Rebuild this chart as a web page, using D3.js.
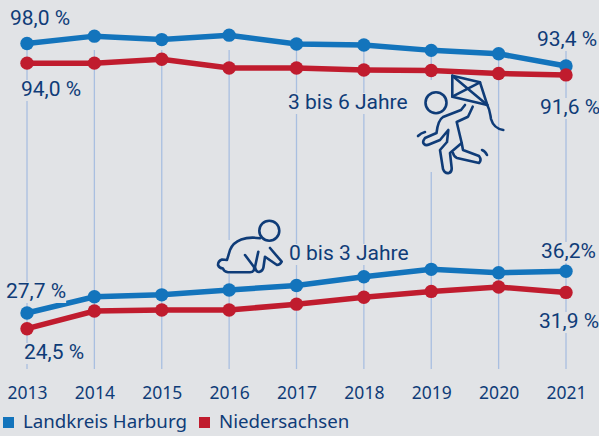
<!DOCTYPE html>
<html><head><meta charset="utf-8">
<script src="https://cdn.jsdelivr.net/npm/d3@7"></script>
<style>html,body{margin:0;padding:0;background:#e1e3e6}svg{display:block}text{font-family:"Noto Sans",sans-serif;fill:#0f3c78}</style>
</head><body><svg id="c" width="599" height="436"></svg>
<script>
const years=[2013,2014,2015,2016,2017,2018,2019,2020,2021];
const harburgOlder=[98.0,99.5,98.8,99.7,97.9,97.7,96.6,95.9,93.4];
const niedersachsenOlder=[94.0,94.0,94.8,93.0,93.0,92.6,92.5,91.9,91.6];
const harburgYounger=[27.7,31.0,31.4,32.4,33.3,35.1,36.6,35.9,36.2];
const niedersachsenYounger=[24.5,28.1,28.3,28.3,29.5,30.9,32.1,33.0,31.9];
const seriesNames=["Landkreis Harburg","Niedersachsen"];
const blue="#1374bc",red="#c01c2e",navy="#0f3c78",grid="#a9bfe0",bg="#e1e3e6";
const svg=d3.select("#c");
svg.append("rect").attr("width",599).attr("height",436).attr("fill",bg);
const x=d3.scalePoint().domain(years).range([27,566]);
const yTop=d3.scaleLinear().domain([98,91.6]).range([43.5,74.9]);
const yLow=d3.scaleLinear().domain([27.7,24.5]).range([313,328.7]);
svg.append("g").selectAll("line").data(years).join("line")
 .attr("x1",d=>x(d)).attr("x2",d=>x(d)).attr("y1",50).attr("y2",369)
 .attr("stroke",grid).attr("stroke-width",1.3);
svg.append("rect").attr("x",428).attr("y",80).attr("width",8).attr("height",92).attr("fill",bg);
svg.append("rect").attr("x",224).attr("y",240).attr("width",11).attr("height",34).attr("fill",bg);
const line=(ys)=>d3.line().x(d=>x(d[0])).y(d=>ys(d[1]));
function series(vals,ys,col){
 const pts=years.map((y,i)=>[y,vals[i]]);
 const g=svg.append("g");
 g.append("path").attr("d",line(ys)(pts)).attr("fill","none").attr("stroke",col).attr("stroke-width",5.5);
 g.selectAll("circle").data(pts).join("circle").attr("cx",d=>x(d[0])).attr("cy",d=>ys(d[1])).attr("r",6.7).attr("fill",col);
}
series(harburgOlder,yTop,blue);series(niedersachsenOlder,yTop,red);
series(harburgYounger,yLow,blue);series(niedersachsenYounger,yLow,red);
const labels=[["98,0 %",10,25],["94,0 %",21,96],["93,4 %",537,46],["91,6 %",540,114],["3 bis 6 Jahre",288,109],["0 bis 3 Jahre",289,260],["27,7 %",6,298],["24,5 %",24,359],["36,2%",541,258],["31,9 %",539,328]];
const L=svg.append("g");
labels.forEach(([t,a,b])=>{
 const n=L.append("text").text(t).attr("x",a).attr("y",b).attr("font-size",21).style("font-family","Roboto");
 const w=n.node().getComputedTextLength();
 L.insert("rect","text").attr("x",a).attr("y",b-16).attr("width",w).attr("height",21).attr("fill",bg);
});
const xAxis=d3.axisBottom(x).tickSize(0).tickPadding(0).tickFormat(d3.format("d"));
const ax=svg.append("g").attr("transform","translate(0,384)").call(xAxis);
ax.select(".domain").remove();
ax.selectAll("text").attr("font-size",17.5).attr("dy",0).attr("y",15);
[[3,blue],[199,red]].forEach(([a,c],i)=>{
 svg.append("rect").attr("x",a).attr("y",417).attr("width",11).attr("height",11).attr("fill",c);
 svg.append("text").text(seriesNames[i]).attr("x",a+20).attr("y",428).attr("font-size",18.7);
});
const ic=svg.append("g").attr("fill","none").attr("stroke",navy).attr("stroke-width",2.6).attr("stroke-linecap","round").attr("stroke-linejoin","round");
ic.append("circle").attr("cx",436).attr("cy",102.7).attr("r",10.5);
["M452.3 75.7L480 82.3L487.3 105L452.3 96.7Z","M452.3 75.7L487.3 105M480 82.3L452.3 96.7",
"M487.3 105C490 110 490 113 491 119C493 126 497 129 503.3 130",
"M465 105L461 110L443 117Q438 120 436.5 133L425 138Q422 142 424 144Q426 146 429 144.5L440 140L448.3 130L447 142L440 150L443 169Q445 174 449 173Q452 172 451.7 168L450 153L461.7 143L456.7 122L468 116.7L472.7 106.7",
"M461.7 143L463 150L479 156Q482 160 479 163L457 158Q454 157 453 153",
"M418 136Q421 133 425 132M487 155Q485 151 482 150"].forEach(d=>ic.append("path").attr("d",d));
ic.append("circle").attr("cx",269.3).attr("cy",230.7).attr("r",10);
["M260 238.3C246 236 234 240 230 250L227 260L222 259.5Q218 261 218 265Q219 268 223 268.5Q224 272 228 272.3L250 272.3Q255 272 254 267L245 255",
"M258.3 251.7L255 267Q256 272 259 272Q263 271 263.5 267L265 256.7L277 265Q280 265 281.7 261.7L270 248"].forEach(d=>ic.append("path").attr("d",d));
</script></body></html>
